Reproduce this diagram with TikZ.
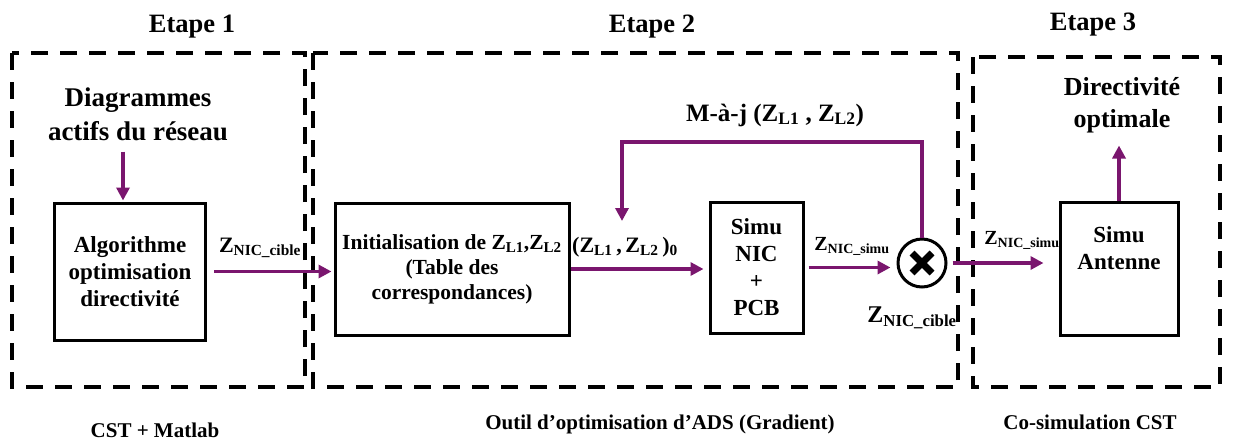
\documentclass[tikz,border=0pt]{standalone}
\usepackage{fontspec}
\setmainfont{Liberation Serif}
\usepackage{xcolor}
\usepackage{tikz}
\usetikzlibrary{arrows.meta, positioning, calc}
\definecolor{plum}{RGB}{122,22,110}
\newcommand{\zimp}[1]{Z\textsubscript{#1}}
\tikzset{
  block/.style={rectangle, draw=black, line width=3pt, align=center,
                font=\bfseries\fontsize{23}{27}\selectfont, inner sep=2pt},
  stage/.style={draw=black, line width=4pt, dash pattern=on 17pt off 12pt},
  arrow/.style={-{Triangle[length=13pt,width=13pt]}, draw=plum, line width=3.5pt},
  title/.style={font=\bfseries\fontsize{26.5}{30}\selectfont, inner sep=0pt},
  tool/.style={font=\bfseries\fontsize{21}{25}\selectfont, inner sep=0pt},
  label/.style={font=\bfseries\fontsize{22}{26}\selectfont, inner sep=1pt, align=center},
  mixer/.style={circle, draw=black, line width=3pt, minimum size=48pt, inner sep=0pt,
                path picture={
                  \draw[line width=7pt] ([shift={(-10pt,-10pt)}]path picture bounding box.center)
                    -- ([shift={(10pt,10pt)}]path picture bounding box.center);
                  \draw[line width=7pt] ([shift={(-10pt,10pt)}]path picture bounding box.center)
                    -- ([shift={(10pt,-10pt)}]path picture bounding box.center);}},
}

\begin{document}
\begin{tikzpicture}[x=1pt, y=-1pt]
  \useasboundingbox (0,0) rectangle (1233,442);

  % Stages
  \draw[stage] (12,53) rectangle (305,387);
  \draw[stage] (313,53) rectangle (958,387);
  \draw[stage] (973,57) rectangle (1220,387);
  \node[title] (et1) at (192,27) {Etape 1};
  \node[title] (et2) at (652,27) {Etape 2};
  \node[title] (et3) at (1093,25) {Etape 3};
  \node[tool] (cst) at (155,430) {CST + Matlab};
  \node[tool] (ads) at (660,424) {Outil d’optimisation d’ADS (Gradient)};
  \node[tool] (cosim) at (1090,422) {Co-simulation CST};

  % Blocks
  \node[block, minimum width=151pt, minimum height=137pt] (algo) at (130,271.5)
    {Algorithme\\optimisation\\directivité};
  \node[block, minimum width=234pt, minimum height=132pt,
        font=\bfseries\fontsize{21.5}{25}\selectfont] (init) at (452,269)
    {Initialisation de \zimp{L1},\zimp{L2}\\(Table des\\correspondances)};
  \node[block, minimum width=93pt, minimum height=131pt] (nic) at (756.5,267.5)
    {Simu\\NIC\\+\\PCB};
  \node[mixer] (mix) at (922,263) {};
  \node[block, minimum width=118pt, minimum height=133pt, text depth=40pt] (ant) at (1119,268.5)
    {Simu\\Antenne};

  % Input and output texts
  \node[label, font=\bfseries\fontsize{27}{34}\selectfont] (diag) at (138,114)
    {Diagrammes\\actifs du réseau};
  \node[label, font=\bfseries\fontsize{26}{32}\selectfont] (dir) at (1122,105)
    {Directivité\\optimale};

  % Connector labels
  \node[label] (zcib1) at (260,248) {\zimp{NIC\_cible}};
  \node[label] (zl0) at (625,247) {(\zimp{L1}\,,\,\zimp{L2}\,)\textsubscript{0}};
  \node[label, font=\bfseries\fontsize{20}{24}\selectfont] (zsim1) at (852,246) {\zimp{NIC\_simu}};
  \node[label, font=\bfseries\fontsize{24}{28}\selectfont] (zcib2) at (912,318) {\zimp{NIC\_cible}};
  \node[label, font=\bfseries\fontsize{20}{24}\selectfont] (zsim2) at (1022,240) {\zimp{NIC\_simu}};
  \node[label, font=\bfseries\fontsize{25}{30}\selectfont] (upd) at (775,115) {M-à-j (\zimp{L1} , \zimp{L2})};

  % Edges
  \coordinate (fbk) at (622,142);
  \coordinate (fbkend) at (622,221);
  \coordinate (din) at ([xshift=-7pt]algo.north |- diag.south);
  \draw[arrow, shorten <=10pt, shorten >=1pt] (din) -- ([xshift=-7pt]algo.north);
  \draw[arrow, shorten <=7pt, shorten >=2pt] (algo.east) -- (algo.east -| init.west);
  \draw[arrow, shorten >=5pt] (init.east) -- (init.east -| nic.west);
  \draw[arrow, shorten <=4pt, shorten >=6pt] (nic.east) -- (nic.east -| mix.west);
  \draw[arrow] (mix.north) |- (fbk) -- (fbkend);
  \draw[arrow, shorten <=5pt, shorten >=15pt] (mix.east) -- (mix.east -| ant.west);
  \draw[arrow, shorten >=1pt] (ant.north) -- ++(0,-56);
\end{tikzpicture}
\end{document}
